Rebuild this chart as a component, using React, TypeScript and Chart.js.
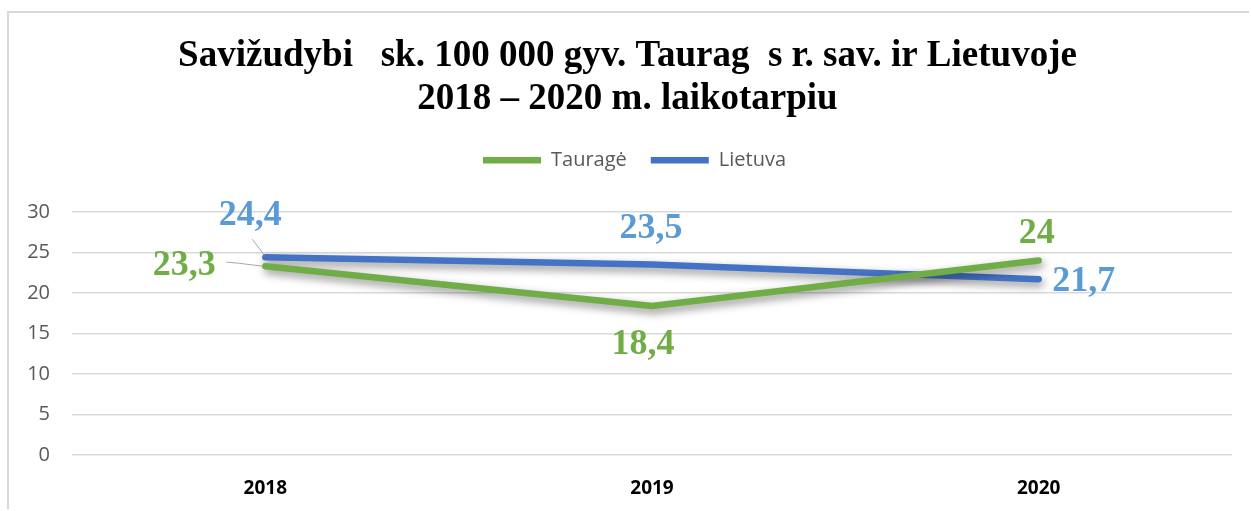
import React, { useEffect, useRef } from "react";
import { Chart, registerables } from "chart.js";

Chart.register(...registerables);

const titleLines = [
  "Savižudybi   sk. 100 000 gyv. Taurag  s r. sav. ir Lietuvoje",
  "2018 – 2020 m. laikotarpiu",
];
const categories = ["2018", "2019", "2020"];
const seriesNames = ["Tauragė", "Lietuva"];
const taurageValues = [23.3, 18.4, 24];
const lietuvaValues = [24.4, 23.5, 21.7];
const yTicks = [0, 5, 10, 15, 20, 25, 30];

const lineColors = ["#70AD47", "#4472C4"];
const labelColors = ["#70AD47", "#5B9BD5"];

// label offsets (px) relative to each point, per dataset
const labelOffsets = [
  [[-81, -3], [-9, 36], [-2, -29]],
  [[-15, -44], [-1, -39], [45, 0]],
];
// leader lines (relative to point) for some labels
const leaders: Record<string, number[][]> = {
  "0-0": [[-39, -4], [-27, -3], [-3, 0]],
  "1-0": [[-13, -18], [-1, -2]],
};

const fmt = (v: number) => String(v).replace(".", ",");

const labelPlugin = {
  id: "valueLabels",
  afterDatasetsDraw(chart: any) {
    const ctx = chart.ctx;
    ctx.save();
    chart.data.datasets.forEach((ds: any, di: number) => {
      const meta = chart.getDatasetMeta(di);
      meta.data.forEach((pt: any, i: number) => {
        const key = `${di}-${i}`;
        const lead = leaders[key];
        if (lead) {
          ctx.beginPath();
          ctx.strokeStyle = "#a6a6a6";
          ctx.lineWidth = 1;
          lead.forEach((p, k) => {
            const x = pt.x + p[0];
            const y = pt.y + p[1];
            if (k === 0) ctx.moveTo(x, y);
            else ctx.lineTo(x, y);
          });
          ctx.stroke();
        }
        const [dx, dy] = labelOffsets[di][i];
        ctx.font = "bold 36px 'Liberation Serif', 'Times New Roman', serif";
        ctx.fillStyle = labelColors[di];
        ctx.textAlign = "center";
        ctx.textBaseline = "alphabetic";
        ctx.fillText(fmt(ds.data[i]), pt.x + dx, pt.y + dy + 12);
      });
    });
    ctx.restore();
  },
};

const shadowPlugin = {
  id: "lineShadow",
  beforeDatasetDraw(chart: any) {
    const ctx = chart.ctx;
    ctx.save();
    ctx.shadowColor = "rgba(0,0,0,0.45)";
    ctx.shadowBlur = 8;
    ctx.shadowOffsetX = 2;
    ctx.shadowOffsetY = 4;
  },
  afterDatasetDraw(chart: any) {
    chart.ctx.restore();
  },
};

const shiftDraw = (box: any, dx: number) => {
  const origDraw = box.draw;
  box.draw = function () {
    const c = this.ctx;
    c.save();
    c.translate(dx, 0);
    origDraw.call(this);
    c.restore();
  };
};

const legendFitPlugin = {
  id: "legendFit",
  beforeLayout(chart: any) {
    const lg = chart.legend;
    if (lg && !lg._patched) {
      const origFit = lg.fit;
      lg.fit = function () {
        origFit.call(this);
        this.height += 31.6;
      };
      shiftDraw(lg, 14);
      lg._patched = true;
    }
    const tb = chart.titleBlock;
    if (tb && !tb._patched) {
      shiftDraw(tb, 7);
      tb._patched = true;
    }
  },
};

export default function App() {
  const ref = useRef<HTMLCanvasElement | null>(null);
  useEffect(() => {
    if (!ref.current) return;
    const chart = new Chart(ref.current, {
      type: "line",
      data: {
        labels: categories,
        datasets: [
          {
            label: seriesNames[0],
            data: taurageValues,
            borderColor: lineColors[0],
            backgroundColor: lineColors[0],
            borderWidth: 6.5,
            borderCapStyle: "round",
            borderJoinStyle: "round",
            pointRadius: 0,
            tension: 0,
          },
          {
            label: seriesNames[1],
            data: lietuvaValues,
            borderColor: lineColors[1],
            backgroundColor: lineColors[1],
            borderWidth: 6.5,
            borderCapStyle: "round",
            borderJoinStyle: "round",
            pointRadius: 0,
            tension: 0,
          },
        ],
      },
      options: {
        animation: false,
        responsive: false,
        maintainAspectRatio: false,
        layout: { padding: { left: 0, right: 17, top: 0, bottom: 9 } },
        plugins: {
          title: {
            display: true,
            text: titleLines,
            color: "#000",
            font: {
              family: "'Liberation Serif', 'Times New Roman', serif",
              size: 37,
              weight: "bold",
              lineHeight: 1.165,
            },
            padding: { top: 22, bottom: 5 },
          },
          legend: {
            display: true,
            position: "top",
            labels: {
              usePointStyle: true,
              pointStyle: "line",
              pointStyleWidth: 58,
              boxHeight: 20,
              padding: 24,
              color: "#595959",
              font: { family: "'Open Sans', sans-serif", size: 20 },
            },
          },
          tooltip: { enabled: false },
        },
        scales: {
          x: {
            offset: true,
            afterFit(scale: any) {
              scale.height = 44.8;
            },
            grid: { display: false, drawTicks: false },
            border: { display: false },
            ticks: {
              color: "#000",
              padding: 22,
              font: { family: "'Open Sans', sans-serif", size: 19, weight: "bold" },
            },
          },
          y: {
            min: 0,
            max: 30,
            afterBuildTicks(scale: any) {
              scale.ticks = yTicks.map((v) => ({ value: v }));
            },
            afterFit(scale: any) {
              scale.width = 63;
            },
            grid: { color: "#d9d9d9", lineWidth: 1.5, drawTicks: false },
            border: { display: false },
            ticks: {
              color: "#595959",
              padding: 22,
              font: { family: "'Open Sans', sans-serif", size: 20 },
            },
          },
        },
      },
      plugins: [shadowPlugin, labelPlugin, legendFitPlugin],
    });
    return () => chart.destroy();
  }, []);

  return (
    <div
      style={{
        position: "absolute",
        left: 7,
        top: 11,
        borderTop: "2px solid #d9d9d9",
        borderLeft: "2px solid #d9d9d9",
        width: 1240,
        height: 496,
        background: "#fff",
      }}
    >
      <canvas ref={ref} width={1240} height={496} style={{ display: "block" }} />
    </div>
  );
}
